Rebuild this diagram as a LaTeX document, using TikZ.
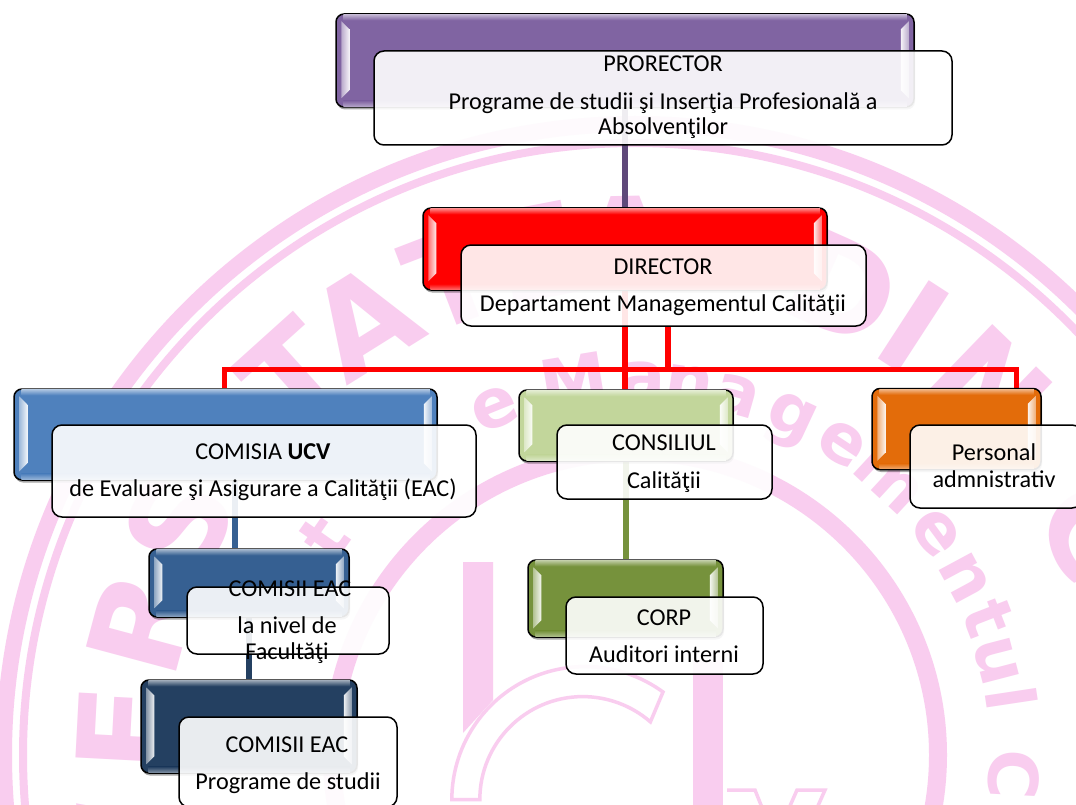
\documentclass[tikz,border=0pt]{standalone}
\usepackage{fontspec}
\setmainfont{Carlito}
\newfontfamily\wmfont{DejaVu Sans}[BoldFont=DejaVu Sans Bold]
\usetikzlibrary{shadows,calc}
\definecolor{wmpink}{HTML}{F9CDEF}
\definecolor{cpurple}{HTML}{8064A2}
\definecolor{cpurpled}{HTML}{5F497A}
\definecolor{cred}{HTML}{FF0000}
\definecolor{cblue}{HTML}{4F81BD}
\definecolor{cmid}{HTML}{366092}
\definecolor{cnavy}{HTML}{244061}
\definecolor{clime}{HTML}{C2D69B}
\definecolor{colive}{HTML}{76923C}
\definecolor{corange}{HTML}{E36C0A}
\pgfdeclarelayer{under}
\pgfsetlayers{under,main}
\tikzset{
  mainbox/.style={draw=black,line width=1.5pt,rounded corners=8pt,inner sep=0pt,
    drop shadow={shadow xshift=1pt,shadow yshift=-2.5pt,opacity=.35,fill=black}},
  topbox/.style={draw=black,line width=1.5pt,rounded corners=10pt,inner sep=0pt,
    fill=white,fill opacity=.9,draw opacity=1},
  txt/.style={font=\fontsize{24.2}{28}\selectfont,inner sep=0pt,text height=16pt,text depth=0pt,text=black},
  wire/.style={line width=#1,line join=miter},
  wmbig/.style={font=\wmfont\bfseries\fontsize{128}{128}\selectfont,text=wmpink,anchor=base,inner sep=0pt},
  wmsmall/.style={font=\wmfont\bfseries\fontsize{68}{68}\selectfont,text=wmpink,anchor=base,inner sep=0pt},
  wmline/.style={draw=wmpink,fill=none}
}
% name, centre x, centre y, width, height, colour
\newcommand{\bevelbox}[6]{%
  \node[mainbox,fill=#6,minimum width=#4pt,minimum height=#5pt] (#1) at (#2,#3) {};
  \pgfmathsetmacro{\hh}{#5}
  \shade[top color=#6!50!white,bottom color=#6]
     ([xshift=8pt,yshift=-1.5pt]#1.north west) rectangle ([xshift=-8pt,yshift=-7pt]#1.north east);
  \shade[top color=#6,bottom color=#6!60!white]
     ([xshift=8pt,yshift=7pt]#1.south west) rectangle ([xshift=-8pt,yshift=1.5pt]#1.south east);
  \shade[left color=#6!55!white,right color=#6!8!white,shift={(#1.north west)}]
     (6,8) -- (14,16) -- (14,\hh-16) -- (6,\hh-8) -- cycle;
  \shade[right color=#6!55!white,left color=#6!8!white,shift={(#1.north east)}]
     (-6,8) -- (-14,16) -- (-14,\hh-16) -- (-6,\hh-8) -- cycle;
}
\begin{document}
\begin{tikzpicture}[x=1pt,y=-1pt]
\useasboundingbox (0,0) rectangle (1076,805);
% ---------- watermark
\begin{pgfonlayer}{under}
\fill[white] (0,0) rectangle (1076,805);
\begin{scope}
  \clip (0,0) rectangle (1076,805);
  \coordinate (wmc) at (635,755);
  \draw[wmline,line width=16pt] (wmc) circle[radius=631];
  \draw[wmline,line width=8pt] (wmc) circle[radius=612];
  \draw[wmline,line width=18pt] (wmc) circle[radius=303];
  \foreach \t/\a [count=\i] in {V/-100,E/-87,R/-75,S/-63,I/-53,T/-42,A/-32,T/-21,E/-11,A/-1,D/24,I/33,N/44,C/64,R/77}{
    \node[wmbig,rotate=-\a] (wmb\i) at ({635+465*sin(\a)},{755-465*cos(\a)}) {\t};
  }
  \foreach \t/\a [count=\i] in {t/-55,e/-22,M/-9.3,a/1.2,n/8.3,a/15.8,g/25,e/33.6,m/42.7,e/53.6,n/61.7,t/68.8,u/75.4,l/81.4,C/93}{
    \node[wmsmall,rotate=-\a] (wms\i) at ({635+355*sin(\a)},{755-355*cos(\a)}) {\t};
  }
  % emblem
  \fill[wmpink] (463,562) -- (493,562) -- (493,700) -- (463,733) -- cycle;
  \fill[wmpink] (693,660) -- (723,660) -- (723,805) -- (693,805) -- cycle;
  \draw[wmpink,line width=3.5pt,line join=miter]
     (663,692) arc[start angle=-54,end angle=-180,radius=133]
     -- ++(28,0) arc[start angle=-180,end angle=-49,radius=103] -- cycle;
  \draw[wmpink,line width=3.5pt,line join=miter]
     (727,790) -- (755,790) -- (775,840) -- (797,790) -- (825,790) -- (785,880);
\end{scope}
\end{pgfonlayer}
% ---------- boxes
\bevelbox{prorectorbg}{625}{60.5}{578}{93}{cpurple}
\bevelbox{directorbg}{625}{249}{404}{82}{cred}
\bevelbox{comisiabg}{225.5}{434.5}{423}{91}{cblue}
\bevelbox{facbg}{249}{583}{200}{68}{cmid}
\bevelbox{progbg}{249}{726.5}{216}{93}{cnavy}
\bevelbox{consiliubg}{626}{425.5}{214}{71}{clime}
\bevelbox{corpbg}{625.5}{598.5}{195}{77}{colive}
\bevelbox{personalbg}{956.5}{429}{169}{81}{corange}
\node[topbox,minimum width=578pt,minimum height=94pt] (prorectorfg) at (663,98) {};
\node[topbox,minimum width=405pt,minimum height=81pt] (directorfg) at (663.5,285.5) {};
\node[topbox,minimum width=424pt,minimum height=92pt] (comisiafg) at (264,471) {};
\node[topbox,minimum width=202pt,minimum height=67pt] (facfg) at (288,620.5) {};
\node[topbox,minimum width=218pt,minimum height=90pt] (progfg) at (288,762) {};
\node[topbox,minimum width=215pt,minimum height=74pt] (consiliufg) at (664.5,462) {};
\node[topbox,minimum width=197pt,minimum height=77pt] (corpfg) at (664.5,635.5) {};
\node[topbox,minimum width=172pt,minimum height=83pt] (personalfg) at (996,466.5) {};
% ---------- connectors
\begin{pgfonlayer}{under}
  \coordinate (bus) at (668,369);
  \coordinate (trunktop) at (668,326);
  \coordinate (persin) at (1016,389);
  \coordinate (c1) at (235,480);
  \draw[wire=6pt,cpurpled] (prorectorbg.south) -- (directorbg.north);
  \draw[wire=6pt,cred] (directorbg.south) -- (directorbg.south |- consiliubg.north);
  \draw[wire=6pt,cred] (trunktop) -- (bus);
  \draw[wire=5pt,cred] ([xshift=-1.5pt]comisiabg.north) |- (bus) -| (persin);
  \draw[wire=6pt,colive] (consiliubg.south -| corpbg.north) -- (corpbg.north);
  \draw[wire=6pt,cmid] (c1) -- (c1 |- facbg.north);
  \draw[wire=6pt,cnavy] (facbg.south) -- (progbg.north);
\end{pgfonlayer}
% ---------- texts
\node[txt] (t1) at (663,64) {PRORECTOR};
\node[txt] (t2) at (663,102) {Programe de studii şi Inserţia Profesională a};
\node[txt] (t3) at (663,127) {Absolvenţilor};
\node[txt] (t4) at (663,266) {DIRECTOR};
\node[txt] (t5) at (663,303) {Departament Managementul Calităţii};
\node[txt] (t6) at (263,451) {COMISIA \textbf{UCV}};
\node[txt] (t7) at (263,488) {de Evaluare şi Asigurare a Calităţii (EAC)};
\node[txt] (t8) at (290,588) {COMISII EAC};
\node[txt] (t9) at (287,625) {la nivel de};
\node[txt] (t10) at (287,651) {Facultăţi};
\node[txt] (t11) at (287,744) {COMISII EAC};
\node[txt] (t12) at (288,781) {Programe de studii};
\node[txt] (t13) at (664,442) {CONSILIUL};
\node[txt] (t14) at (664,480) {Calităţii};
\node[txt] (t15) at (994,452) {Personal};
\node[txt] (t16) at (994,479) {admnistrativ};
\node[txt] (t17) at (664,617) {CORP};
\node[txt] (t18) at (664,654) {Auditori interni};
\end{tikzpicture}
\end{document}
